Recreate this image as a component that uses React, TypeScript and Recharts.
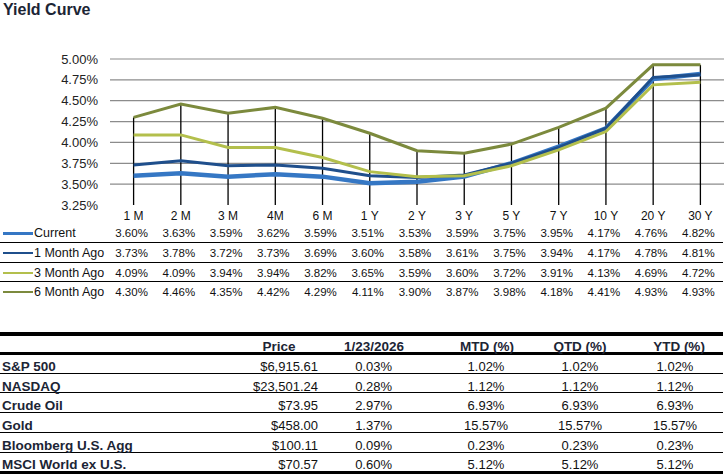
import React from 'react'
import { LineChart, Line, XAxis, YAxis, ReferenceLine } from 'recharts'

const tenors = ['1 M', '2 M', '3 M', '4M', '6 M', '1 Y', '2 Y', '3 Y', '5 Y', '7 Y', '10 Y', '20 Y', '30 Y']
const current = [3.6, 3.63, 3.59, 3.62, 3.59, 3.51, 3.53, 3.59, 3.75, 3.95, 4.17, 4.76, 4.82]
const oneMonthAgo = [3.73, 3.78, 3.72, 3.73, 3.69, 3.6, 3.58, 3.61, 3.75, 3.94, 4.17, 4.78, 4.81]
const threeMonthAgo = [4.09, 4.09, 3.94, 3.94, 3.82, 3.65, 3.59, 3.6, 3.72, 3.91, 4.13, 4.69, 4.72]
const sixMonthAgo = [4.3, 4.46, 4.35, 4.42, 4.29, 4.11, 3.9, 3.87, 3.98, 4.18, 4.41, 4.93, 4.93]
const yTicks = [3.25, 3.5, 3.75, 4.0, 4.25, 4.5, 4.75, 5.0]

const assets = ['S&P 500', 'NASDAQ', 'Crude Oil', 'Gold', 'Bloomberg U.S. Agg', 'MSCI World ex U.S.']
const prices = [6915.61, 23501.24, 73.95, 458.0, 100.11, 70.57]
const dayChg = [0.03, 0.28, 2.97, 1.37, 0.09, 0.6]
const mtd = [1.02, 1.12, 6.93, 15.57, 0.23, 5.12]
const qtd = [1.02, 1.12, 6.93, 15.57, 0.23, 5.12]
const ytd = [1.02, 1.12, 6.93, 15.57, 0.23, 5.12]
const asOf = '1/23/2026'

const series = [
  { key: 'current', name: 'Current', values: current, color: '#3577c4', width: 4.5 },
  { key: 'm1', name: '1 Month Ago', values: oneMonthAgo, color: '#1f4f8c', width: 3 },
  { key: 'm3', name: '3 Month Ago', values: threeMonthAgo, color: '#b3bf4c', width: 3 },
  { key: 'm6', name: '6 Month Ago', values: sixMonthAgo, color: '#7c8a3d', width: 3 },
]

const data = tenors.map((t, i) => {
  const row: any = { tenor: t }
  series.forEach((s) => (row[s.key] = s.values[i]))
  row.top = Math.max(...series.map((s) => s.values[i]))
  return row
})

const FONT = '"Liberation Sans", Arial, sans-serif'
const INK = '#1c2535'

// plot geometry
const PLOT_LEFT = 110
const PLOT_RIGHT = 724
const PAD = 23.6
const step = (PLOT_RIGHT - PLOT_LEFT - 2 * PAD) / (tenors.length - 1)
const colX = (i: number) => PLOT_LEFT + PAD + i * step

const pct = (v: number) => `${v.toFixed(2)}%`
const money = (v: number) =>
  '$' + v.toLocaleString('en-US', { minimumFractionDigits: 2, maximumFractionDigits: 2 })

function Txt({
  x, y, children, align = 'center', size = 12, bold = false, color = '#111', w = 120,
}: any) {
  const left = align === 'center' ? x - w / 2 : align === 'right' ? x - w : x
  return (
    <div
      style={{
        position: 'absolute', left, top: y - 10, width: w, height: 20, lineHeight: '20px',
        textAlign: align, fontSize: size, fontWeight: bold ? 700 : 400, color,
        whiteSpace: 'nowrap', fontFamily: FONT,
      }}
    >
      {children}
    </div>
  )
}

function HLine({ y, h = 1, x0 = 0, x1 = 723 }: any) {
  return <div style={{ position: 'absolute', left: x0, top: y - h / 2, width: x1 - x0, height: h, background: '#000' }} />
}

const rowY = [233.3, 253, 272.5, 291.7]
const sepY = [242.7, 262.3, 281.7]
const tblRowY = [367.3, 386.7, 406.3, 426, 446, 465.3]
const tblSepY = [373.3, 392.7, 412.7, 432.7, 452.7]

export default function App() {
  return (
    <div style={{ position: 'absolute', left: 0, top: 0, width: 724, height: 474, background: '#fff', fontFamily: FONT }}>
      <Txt x={3} y={10} align="left" size={16} bold color={INK} w={200}>Yield Curve</Txt>

      <div style={{ position: 'absolute', left: 0, top: 0 }}>
        <LineChart width={724} height={230} data={data} margin={{ top: 59, right: 0, bottom: 0, left: 0 }}>
          <XAxis
            dataKey="tenor"
            axisLine={false}
            tickLine={false}
            tickSize={0}
            tickMargin={6}
            height={25}
            padding={{ left: PAD, right: PAD }}
            interval={0}
            tick={{ fontSize: 12, fill: '#111', fontFamily: FONT }}
          />
          <YAxis
            domain={[3.25, 5]}
            ticks={yTicks}
            interval={0}
            width={110}
            axisLine={false}
            tickLine={false}
            tickSize={0}
            tickMargin={12}
            tickFormatter={pct}
            tick={{ fontSize: 13, fill: '#222', fontFamily: FONT }}
          />
          {yTicks.slice(1).map((v) => (
            <ReferenceLine key={v} y={v} stroke="#8c8c8c" strokeWidth={1.2} />
          ))}
          {data.map((d) => (
            <ReferenceLine
              key={d.tenor}
              segment={[{ x: d.tenor, y: d.top }, { x: d.tenor, y: 3.25 }]}
              stroke="#000"
              strokeWidth={1.3}
            />
          ))}
          {series.map((s) => (
            <Line
              key={s.key}
              dataKey={s.key}
              stroke={s.color}
              strokeWidth={s.width}
              dot={false}
              activeDot={false}
              isAnimationActive={false}
              strokeLinejoin="miter"
            />
          ))}
        </LineChart>
      </div>

      {/* data table under the curve */}
      {series.map((s, r) => (
        <React.Fragment key={s.key}>
          <div style={{ position: 'absolute', left: 3, top: rowY[r] - s.width / 2 + 0.5, width: 30, height: s.width - 1, background: s.color }} />
          <Txt x={34} y={rowY[r]} align="left" size={12.5} w={90}>{s.name}</Txt>
          {s.values.map((v, i) => (
            <Txt key={i} x={colX(i) - 2} y={rowY[r]} size={11.5} w={46}>{pct(v)}</Txt>
          ))}
        </React.Fragment>
      ))}
      {sepY.map((y) => <HLine key={y} y={y} h={1.2} />)}

      {/* market table */}
      <HLine y={334} h={3.2} />
      <HLine y={353.5} h={2.7} />
      <HLine y={472.5} h={3} />
      {tblSepY.map((y) => <HLine key={y} y={y} h={1.3} />)}
      <Txt x={279} y={346.7} size={13.5} bold color={INK}>Price</Txt>
      <Txt x={374} y={346.7} size={13.5} bold color={INK}>{asOf}</Txt>
      <Txt x={487} y={346.7} size={13.5} bold color={INK}>MTD (%)</Txt>
      <Txt x={580} y={346.7} size={13.5} bold color={INK}>QTD (%)</Txt>
      <Txt x={679} y={346.7} size={13.5} bold color={INK}>YTD (%)</Txt>
      {assets.map((a, i) => (
        <React.Fragment key={a}>
          <Txt x={2} y={tblRowY[i]} align="left" size={13.5} bold color={INK} w={200}>{a}</Txt>
          <Txt x={318} y={tblRowY[i]} align="right" size={13}>{money(prices[i])}</Txt>
          <Txt x={392} y={tblRowY[i]} align="right" size={13}>{pct(dayChg[i])}</Txt>
          <Txt x={486} y={tblRowY[i]} size={13}>{pct(mtd[i])}</Txt>
          <Txt x={580} y={tblRowY[i]} size={13}>{pct(qtd[i])}</Txt>
          <Txt x={675} y={tblRowY[i]} size={13}>{pct(ytd[i])}</Txt>
        </React.Fragment>
      ))}
    </div>
  )
}
